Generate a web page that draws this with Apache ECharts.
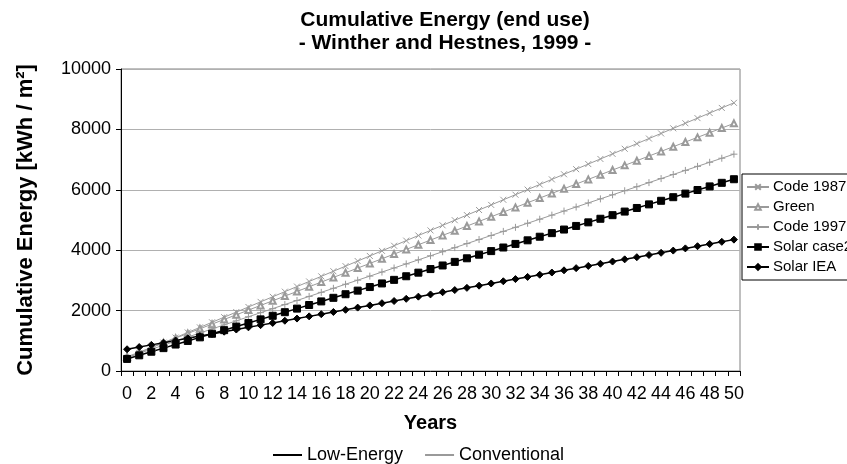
<!DOCTYPE html>
<html>
<head>
<meta charset="utf-8">
<script src="https://cdn.jsdelivr.net/npm/echarts@6/dist/echarts.min.js"></script>
<style>
  html, body { margin: 0; padding: 0; background: #fff; }
  #main { width: 847px; height: 464px; }
</style>
</head>
<body>
<div id="main"></div>
<script>
// years on the x axis
const years = [
  0, 1, 2, 3, 4, 5, 6, 7, 8, 9, 10, 11, 12, 13, 14, 15, 16, 17, 18, 19, 20,
  21, 22, 23, 24, 25, 26, 27, 28, 29, 30, 31, 32, 33, 34, 35, 36, 37, 38, 39, 40,
  41, 42, 43, 44, 45, 46, 47, 48, 49, 50
]

// cumulative energy, kWh / m2
const code1987 = [
  430, 599, 768, 937, 1106, 1275, 1444, 1613, 1782, 1951, 2120, 2289, 2458, 2627, 2796, 2965, 3134,
  3303, 3472, 3641, 3810, 3979, 4148, 4317, 4486, 4655, 4824, 4993, 5162, 5331, 5500, 5669, 5838,
  6007, 6176, 6345, 6514, 6683, 6852, 7021, 7190, 7359, 7528, 7697, 7866, 8035, 8204, 8373, 8542,
  8711, 8880
]
const green = [
  470, 625, 779, 934, 1088, 1243, 1398, 1552, 1707, 1861, 2016, 2171, 2325, 2480, 2634, 2789, 2944,
  3098, 3253, 3407, 3562, 3717, 3871, 4026, 4180, 4335, 4490, 4644, 4799, 4953, 5108, 5263, 5417,
  5572, 5726, 5881, 6036, 6190, 6345, 6499, 6654, 6809, 6963, 7118, 7272, 7427, 7582, 7736, 7891,
  8045, 8200
]
const code1997 = [
  450, 585, 719, 854, 988, 1123, 1258, 1392, 1527, 1661, 1796, 1931, 2065, 2200, 2334, 2469, 2604,
  2738, 2873, 3007, 3142, 3277, 3411, 3546, 3680, 3815, 3950, 4084, 4219, 4353, 4488, 4623, 4757,
  4892, 5026, 5161, 5296, 5430, 5565, 5699, 5834, 5969, 6103, 6238, 6372, 6507, 6642, 6776, 6911,
  7045, 7180
]
const solarCase2 = [
  400, 519, 638, 757, 876, 995, 1114, 1233, 1352, 1471, 1590, 1709, 1828, 1947, 2066, 2185, 2304,
  2423, 2542, 2661, 2780, 2899, 3018, 3137, 3256, 3375, 3494, 3613, 3732, 3851, 3970, 4089, 4208,
  4327, 4446, 4565, 4684, 4803, 4922, 5041, 5160, 5279, 5398, 5517, 5636, 5755, 5874, 5993, 6112,
  6231, 6350
]
const solarIEA = [
  720, 793, 865, 938, 1010, 1083, 1156, 1228, 1301, 1373, 1446, 1519, 1591, 1664, 1736, 1809, 1882,
  1954, 2027, 2099, 2172, 2245, 2317, 2390, 2462, 2535, 2608, 2680, 2753, 2825, 2898, 2971, 3043,
  3116, 3188, 3261, 3334, 3406, 3479, 3551, 3624, 3697, 3769, 3842, 3914, 3987, 4060, 4132, 4205,
  4277, 4350
]

const GREY = '#9a9a9a'
const BLACK = '#000000'
const FONT = 'Liberation Sans, Arial, sans-serif'

const chart = echarts.init(document.getElementById('main'))

/** 生成一条折线 */
function lineSeries(name, data, color, symbol, symbolSize, width) {
  return {
    name,
    type: 'line',
    data,
    symbol,
    symbolSize,
    showAllSymbol: true,
    animation: false,
    lineStyle: { color, width },
    itemStyle: { color, borderColor: color, borderWidth: 1 },
    emphasis: { disabled: true },
  }
}

const option = {
  animation: false,
  textStyle: { fontFamily: FONT, color: '#000' },
  title: {
    text: 'Cumulative Energy (end use)\n- Winther and Hestnes, 1999 -',
    left: 440,
    top: 4,
    textAlign: 'center',
    textStyle: { fontFamily: FONT, fontSize: 21, fontWeight: 'bold', color: '#000', lineHeight: 23 },
  },
  grid: {
    left: 121,
    right: 107,
    top: 69,
    bottom: 93,
    show: true,
    borderColor: '#808080',
    borderWidth: 1,
  },
  legend: [
    {
      // series legend on the right, partly cut off like the original
      data: ['Code 1987', 'Green', 'Code 1997', 'Solar case2', 'Solar IEA'],
      orient: 'vertical',
      left: 742,
      top: 174,
      padding: [5, 20, 5, 4],
      itemGap: 4,
      itemWidth: 22,
      itemHeight: 7,
      borderColor: '#000',
      borderWidth: 1,
      backgroundColor: '#fff',
      textStyle: { fontFamily: FONT, fontSize: 15, color: '#000', lineHeight: 16, padding: [0, 0, 0, -1] },
    },
    {
      data: ['Low-Energy', 'Conventional'],
      left: 268,
      top: 441,
      icon: 'rect',
      itemWidth: 29,
      itemHeight: 2,
      itemGap: 22,
      textStyle: { fontFamily: FONT, fontSize: 18, color: '#000' },
    },
  ],
  xAxis: {
    type: 'category',
    data: years,
    boundaryGap: true,
    name: 'Years',
    nameLocation: 'middle',
    nameGap: 42,
    nameTextStyle: { fontFamily: FONT, fontSize: 20, fontWeight: 'bold', color: '#000' },
    axisLine: { lineStyle: { color: '#000', width: 1 } },
    axisTick: { show: true, interval: 0, length: 5, lineStyle: { color: '#000' } },
    axisLabel: { interval: 1, margin: 14, fontFamily: FONT, fontSize: 18, color: '#000' },
    splitLine: { show: false },
  },
  yAxis: {
    type: 'value',
    min: 0,
    max: 10000,
    interval: 2000,
    name: 'Cumulative Energy [kWh / m²]',
    nameLocation: 'middle',
    nameGap: 84,
    nameTextStyle: { fontFamily: FONT, fontSize: 22, fontWeight: 'bold', color: '#000' },
    axisLine: { show: true, lineStyle: { color: '#000', width: 1 } },
    axisTick: { show: true, length: 5, lineStyle: { color: '#000' } },
    axisLabel: {
      margin: 10,
      fontFamily: FONT,
      fontSize: 18,
      color: '#000',
      formatter: (value) => String(value),
    },
    splitLine: { show: true, lineStyle: { color: '#b0b0b0', width: 1 } },
  },
  series: [
    lineSeries('Code 1987', code1987, GREY, 'path://M0,0L8,8M8,0L0,8', 6, 1),
    lineSeries('Green', green, GREY, 'emptyTriangle', 6, 1),
    lineSeries('Code 1997', code1997, GREY, 'path://M4,0L4,8M0,4L8,4', 7, 1),
    lineSeries('Solar case2', solarCase2, BLACK, 'rect', 7, 1.5),
    lineSeries('Solar IEA', solarIEA, BLACK, 'diamond', 7, 1.5),
    // legend-only entries for line shade meaning
    { name: 'Low-Energy', type: 'line', data: [], itemStyle: { color: BLACK }, lineStyle: { color: BLACK } },
    { name: 'Conventional', type: 'line', data: [], itemStyle: { color: GREY }, lineStyle: { color: GREY } },
  ],
}

chart.setOption(option)
</script>
</body>
</html>
